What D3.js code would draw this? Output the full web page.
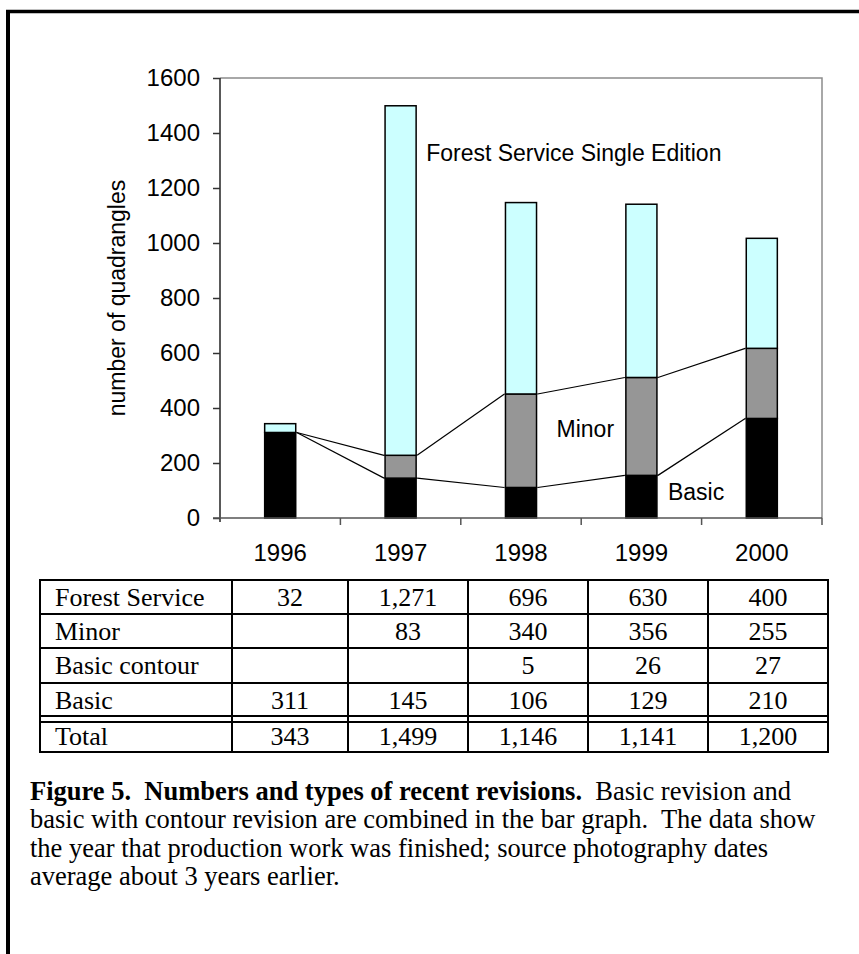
<!DOCTYPE html>
<html>
<head>
<meta charset="utf-8">
<script src="https://cdn.jsdelivr.net/npm/d3@7"></script>
<style>
  body { margin: 0; background: #fff; }
  svg { display: block; }
  .axis-text { font-family: Arial, "Liberation Sans", sans-serif; font-size: 23px; fill: #000; }
  .tick-text { font-family: Arial, "Liberation Sans", sans-serif; font-size: 24px; fill: #000; }
  .serif { font-family: "Times New Roman", "Liberation Serif", serif; font-size: 26px; fill: #000; }
  .caption-text { font-family: "Times New Roman", "Liberation Serif", serif; font-size: 26.5px; fill: #000; }
</style>
</head>
<body>
<svg id="chart" width="859" height="954"></svg>
<script>
// categories
const years = ['1996', '1997', '1998', '1999', '2000'];

// bar heights as drawn in the graph (basic includes basic contour)
const basicValues = [311, 145, 111, 155, 362];
const minorValues = [0, 83, 340, 356, 255];
const forestValues = [32, 1271, 696, 630, 400];

const yTicks = [0, 200, 400, 600, 800, 1000, 1200, 1400, 1600];

// table text
const rowLabels = ['Forest Service', 'Minor', 'Basic contour', 'Basic', 'Total'];
const tableForest = ['32', '1,271', '696', '630', '400'];
const tableMinor = ['', '83', '340', '356', '255'];
const tableContour = ['', '', '5', '26', '27'];
const tableBasic = ['311', '145', '106', '129', '210'];
const tableTotal = ['343', '1,499', '1,146', '1,141', '1,200'];

const seriesNames = ['Basic', 'Minor', 'Forest Service Single Edition'];
const seriesColors = ['#000000', '#969696', '#ccffff'];

const svg = d3.select('#chart');

// frame (top and left rule only)
svg.append('line')
  .attr('x1', 6).attr('x2', 859).attr('y1', 11.5).attr('y2', 11.5)
  .attr('stroke', '#000').attr('stroke-width', 3.5);
svg.append('line')
  .attr('x1', 8).attr('x2', 8).attr('y1', 10).attr('y2', 954)
  .attr('stroke', '#000').attr('stroke-width', 4);

const plot = { left: 220, right: 822, top: 78, bottom: 518 };

const xScale = d3.scaleBand()
  .domain(years)
  .range([plot.left, plot.right])
  .paddingInner(0.742)
  .paddingOuter(0.371);

const xCat = d3.scaleBand()
  .domain(years)
  .range([plot.left, plot.right]);

const yScale = d3.scaleLinear()
  .domain([0, 1600])
  .range([plot.bottom, plot.top]);

// plot area border (top and right, gray)
svg.append('path')
  .attr('d', `M${plot.left},${plot.top}H${plot.right}V${plot.bottom}`)
  .attr('fill', 'none')
  .attr('stroke', '#8c8c8c')
  .attr('stroke-width', 1.5);

// stacked data
const stackData = years.map((y, i) => ({
  year: y, basic: basicValues[i], minor: minorValues[i], forest: forestValues[i]
}));
const stack = d3.stack().keys(['basic', 'minor', 'forest']);
const series = stack(stackData);

const barsG = svg.append('g').attr('class', 'bars');
series.forEach((s, si) => {
  barsG.selectAll(null)
    .data(s.filter(d => d[1] > d[0]))
    .enter().append('rect')
      .attr('x', d => xScale(d.data.year))
      .attr('width', xScale.bandwidth())
      .attr('y', d => yScale(d[1]))
      .attr('height', d => yScale(d[0]) - yScale(d[1]))
      .attr('fill', seriesColors[si])
      .attr('stroke', '#000')
      .attr('stroke-width', 1.5);
});

// series lines for basic and minor
const linesG = svg.append('g').attr('class', 'series-lines');
series.slice(0, 2).forEach(s => {
  for (let i = 0; i < s.length - 1; i++) {
    linesG.append('line')
      .attr('x1', xScale(years[i]) + xScale.bandwidth() + 1)
      .attr('y1', yScale(s[i][1]))
      .attr('x2', xScale(years[i + 1]) - 1)
      .attr('y2', yScale(s[i + 1][1]))
      .attr('stroke', '#000')
      .attr('stroke-width', 1.2);
  }
});

// y axis
const yAxisG = svg.append('g')
  .attr('transform', `translate(${plot.left},0)`)
  .call(d3.axisLeft(yScale)
    .tickValues(yTicks)
    .tickFormat(d3.format('d'))
    .tickSize(7)
    .tickPadding(13)
    .tickSizeOuter(0));
yAxisG.select('.domain').attr('stroke', '#222').attr('stroke-width', 1.5)
  .attr('d', `M0,${plot.top}V${plot.bottom + 4}`);
yAxisG.selectAll('.tick line').attr('stroke', '#333').attr('stroke-width', 1.5);
yAxisG.attr('font-size', null).attr('font-family', null);
yAxisG.selectAll('.tick text').attr('class', 'tick-text');

// x axis
const xAxisG = svg.append('g')
  .attr('transform', `translate(0,${plot.bottom})`);
xAxisG.append('line')
  .attr('x1', plot.left - 7).attr('x2', plot.right)
  .attr('stroke', '#555').attr('stroke-width', 1.5);
xAxisG.selectAll('.xtick')
  .data(years.slice(1).concat(['end']))
  .enter().append('line')
    .attr('class', 'xtick')
    .attr('x1', d => d === 'end' ? plot.right : xCat(d))
    .attr('x2', d => d === 'end' ? plot.right : xCat(d))
    .attr('y1', 0).attr('y2', 7)
    .attr('stroke', '#555').attr('stroke-width', 1.5);
xAxisG.selectAll('.xlabel')
  .data(years)
  .enter().append('text')
    .attr('class', 'tick-text')
    .attr('x', d => xScale(d) + xScale.bandwidth() / 2)
    .attr('y', 43)
    .attr('text-anchor', 'middle')
    .text(d => d);

// y axis title
svg.append('text')
  .attr('class', 'axis-text')
  .attr('transform', `translate(125,${(plot.top + plot.bottom) / 2}) rotate(-90)`)
  .attr('text-anchor', 'middle')
  .text('number of quadrangles');

// series labels
svg.append('text').attr('class', 'axis-text')
  .attr('x', xScale('1997') + xScale.bandwidth() + 10)
  .attr('y', yScale(1300))
  .text(seriesNames[2]);
svg.append('text').attr('class', 'axis-text')
  .attr('x', xScale('1998') + xScale.bandwidth() + 20)
  .attr('y', yScale(295))
  .text(seriesNames[1]);
svg.append('text').attr('class', 'axis-text')
  .attr('x', xScale('1999') + xScale.bandwidth() + 11)
  .attr('y', yScale(65))
  .text(seriesNames[0]);

// table
const colEdges = [40, 232, 348, 468, 588, 708, 828];
const rowEdges = [580, 614, 648, 683, 716, 722, 752];
const tableRows = [tableForest, tableMinor, tableContour, tableBasic, tableTotal];
const rowTops = [580, 614, 648, 683, 722];
const tableG = svg.append('g').attr('class', 'table');

tableG.selectAll('.hline')
  .data(rowEdges)
  .enter().append('line')
    .attr('x1', colEdges[0] - 1).attr('x2', colEdges[colEdges.length - 1] + 1)
    .attr('y1', d => d).attr('y2', d => d)
    .attr('stroke', '#000').attr('stroke-width', 2);
tableG.selectAll('.vline')
  .data(colEdges)
  .enter().append('line')
    .attr('x1', d => d).attr('x2', d => d)
    .attr('y1', rowEdges[0]).attr('y2', rowEdges[rowEdges.length - 1])
    .attr('stroke', '#000').attr('stroke-width', 2);

rowLabels.forEach((label, r) => {
  const base = rowTops[r] + (r === 4 ? 23 : 26);
  tableG.append('text').attr('class', 'serif')
    .attr('x', colEdges[0] + 15).attr('y', base)
    .text(label);
  tableG.selectAll(null)
    .data(tableRows[r])
    .enter().append('text')
      .attr('class', 'serif')
      .attr('x', (d, i) => (colEdges[i + 1] + colEdges[i + 2]) / 2)
      .attr('y', base)
      .attr('text-anchor', 'middle')
      .text(d => d);
});

// caption
const capLines = [
  'basic with contour revision are combined in the bar graph.  The data show',
  'the year that production work was finished; source photography dates',
  'average about 3 years earlier.'
];
const cap = svg.append('g').attr('class', 'caption');
const first = cap.append('text').attr('class', 'caption-text')
  .attr('x', 30).attr('y', 800).style('white-space', 'pre');
first.append('tspan').attr('font-weight', 'bold')
  .text('Figure 5.  Numbers and types of recent revisions.');
first.append('tspan').text('  Basic revision and');
cap.selectAll('.cl')
  .data(capLines)
  .enter().append('text')
    .attr('class', 'caption-text')
    .style('white-space', 'pre')
    .attr('x', 30)
    .attr('y', (d, i) => 828.3 + i * 28.3)
    .text(d => d);
</script>
</body>
</html>
